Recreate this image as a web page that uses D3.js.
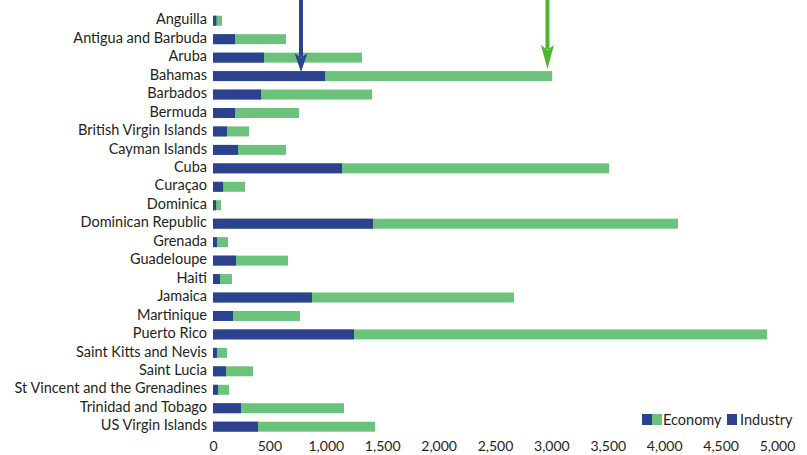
<!DOCTYPE html>
<html>
<head>
<meta charset="utf-8">
<script src="https://cdn.jsdelivr.net/npm/d3@7"></script>
<style>
  html, body { margin: 0; padding: 0; background: #fff; }
  svg { display: block; font-family: "Lato", "Open Sans", sans-serif; }
</style>
</head>
<body>
<svg id="chart" width="807" height="455"></svg>
<script>
// Territories, top to bottom
const territories = [
  "Anguilla", "Antigua and Barbuda", "Aruba", "Bahamas", "Barbados", "Bermuda",
  "British Virgin Islands", "Cayman Islands", "Cuba", "Curaçao", "Dominica",
  "Dominican Republic", "Grenada", "Guadeloupe", "Haiti", "Jamaica", "Martinique",
  "Puerto Rico", "Saint Kitts and Nevis", "Saint Lucia",
  "St Vincent and the Grenadines", "Trinidad and Tobago", "US Virgin Islands"
];

// Whole-economy totals (green bar, includes industry)
const economy = [
  80, 647, 1321, 3007, 1410, 762, 319, 647, 3511, 284, 71,
  4122, 133, 665, 168, 2668, 771, 4911, 124, 355, 142, 1161, 1436
];

// Industry share (blue bar)
const industry = [
  30, 195, 452, 993, 426, 195, 124, 222, 1144, 89, 27,
  1418, 35, 204, 62, 878, 177, 1250, 35, 115, 44, 248, 399
];

const xTicks = [0, 500, 1000, 1500, 2000, 2500, 3000, 3500, 4000, 4500, 5000];

// Annotation arrows pointing at the Bahamas row
const arrowValues = [780, 2965];
const arrowSeries = ["industry", "economy"];

const colors = { industry: "#2c428e", economy: "#6bc27a" };
const arrowColors = { industry: "#2c428e", economy: "#4fb530" };
const textColor = "#231f20";
const fontFamily = "Lato, 'Open Sans', sans-serif";

const svg = d3.select("#chart");

const x = d3.scaleLinear().domain([0, 5000]).range([213, 777]);
const y = d3.scaleBand()
  .domain(territories)
  .range([11.5, 435.9])
  .paddingInner(0.46)
  .paddingOuter(0.23);

const rows = territories.map((name, i) => ({ name, economy: economy[i], industry: industry[i] }));

// Economy bars
svg.append("g").selectAll("rect")
  .data(rows).join("rect")
  .attr("x", x(0))
  .attr("y", d => y(d.name))
  .attr("width", d => x(d.economy) - x(0))
  .attr("height", y.bandwidth())
  .attr("fill", colors.economy);

// Industry bars
svg.append("g").selectAll("rect")
  .data(rows).join("rect")
  .attr("x", x(0))
  .attr("y", d => y(d.name))
  .attr("width", d => x(d.industry) - x(0))
  .attr("height", y.bandwidth())
  .attr("fill", colors.industry);

// Category labels
const yAxis = svg.append("g")
  .attr("transform", `translate(${x(0) - 6},-1)`)
  .call(d3.axisLeft(y).tickSize(0).tickPadding(0));
yAxis.select(".domain").remove();
yAxis.selectAll("text")
  .attr("fill", textColor)
  .style("font-size", "14.5px")
  .style("font-family", fontFamily);

// Value axis labels
const xAxis = svg.append("g")
  .attr("transform", "translate(0,441)")
  .call(d3.axisBottom(x).tickValues(xTicks).tickSize(0).tickPadding(0)
    .tickFormat(d3.format(",")));
xAxis.select(".domain").remove();
xAxis.selectAll("text")
  .attr("fill", textColor)
  .style("font-size", "14px")
  .style("font-family", fontFamily);

// Arrows
const bahamas = y("Bahamas");
arrowValues.forEach((v, i) => {
  const s = arrowSeries[i];
  const cx = x(v);
  const tipY = s === "industry" ? bahamas + 1 : bahamas - 2;
  const headLen = s === "industry" ? 19 : 24;
  const g = svg.append("g").attr("fill", arrowColors[s]).attr("stroke", "none");
  g.append("rect")
    .attr("x", cx - 2).attr("y", 0)
    .attr("width", 4).attr("height", tipY - headLen + 4);
  g.append("path")
    .attr("d", `M${cx},${tipY} L${cx - 6.5},${tipY - headLen} L${cx},${tipY - headLen + 5} L${cx + 6.5},${tipY - headLen} Z`);
});

// Legend
const legend = svg.append("g").attr("transform", "translate(642,414)");
legend.append("rect").attr("x", 0).attr("y", 0).attr("width", 10).attr("height", 11).attr("fill", colors.industry);
legend.append("rect").attr("x", 10).attr("y", 0).attr("width", 10).attr("height", 11).attr("fill", colors.economy);
legend.append("text").attr("x", 21).attr("y", 10.5)
  .attr("fill", textColor).style("font-size", "14.5px").text("Economy");
legend.append("rect").attr("x", 85).attr("y", 0).attr("width", 10).attr("height", 11).attr("fill", colors.industry);
legend.append("text").attr("x", 98).attr("y", 10.5)
  .attr("fill", textColor).style("font-size", "14.5px").text("Industry");
</script>
</body>
</html>
